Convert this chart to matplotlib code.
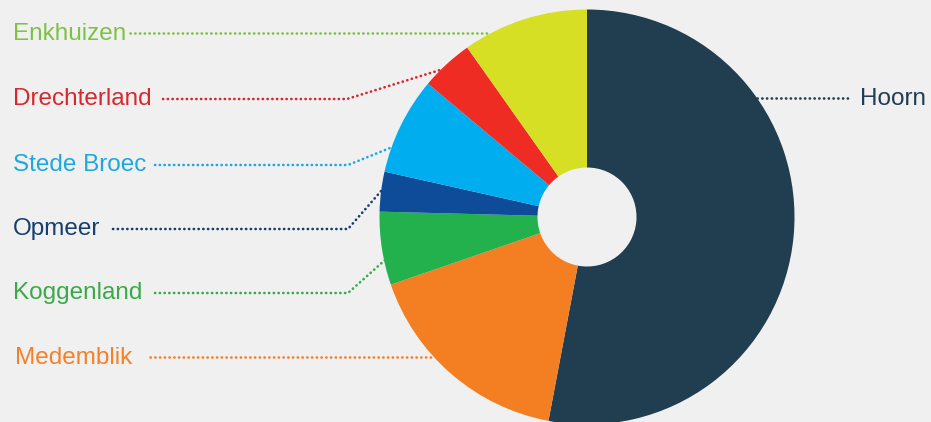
import matplotlib.pyplot as plt

plt.rcParams['font.family'] = ['Liberation Sans', 'DejaVu Sans']

# gemeenten, clockwise from 12 o'clock
gemeenten = ['Hoorn', 'Medemblik', 'Koggenland', 'Opmeer', 'Stede Broec', 'Drechterland', 'Enkhuizen']
aandeel = [53.0, 16.75, 5.7, 3.1, 7.6, 4.1, 9.8]
slice_colors = ['#213d50', '#f37f22', '#23b14d', '#0e4c9a', '#00aeef', '#ee2c24', '#d6df23']
label_colors = ['#213d50', '#f58025', '#3aaa48', '#173f6e', '#1ea8e0', '#d7282f', '#7dc242']

W, H = 931, 422
BG = '#f0f0f0'

fig = plt.figure(figsize=(W / 100, H / 100), dpi=100)
fig.patch.set_facecolor(BG)
ax = fig.add_axes([0, 0, 1, 1])
ax.set_facecolor(BG)

# pie in pixel-like coords (y up)
cx, cy, r = 587, H - 217, 207.5
ax.pie(aandeel, colors=slice_colors, startangle=90, counterclock=False,
       center=(cx, cy), radius=r,
       wedgeprops=dict(width=r - 49.5, linewidth=0))

# leader lines: text anchor and dotted path -- in image pixels (y down)
leaders = {
    'Enkhuizen':    dict(text=(13, 34),   line=[(130, 33), (487, 33)]),
    'Drechterland': dict(text=(13, 99),   line=[(163, 99), (347, 99), (440, 70)]),
    'Stede Broec':  dict(text=(13, 165),  line=[(155, 165), (348, 165), (390, 148)]),
    'Opmeer':       dict(text=(13, 229),  line=[(113, 229), (348, 229), (382, 190)]),
    'Koggenland':   dict(text=(13, 293),  line=[(155, 293), (348, 293), (385, 260)]),
    'Medemblik':    dict(text=(15, 358),  line=[(150, 357), (432, 357)]),
    'Hoorn':        dict(text=(860, 99),  line=[(757, 98), (850, 98)]),
}

for name, col in zip(gemeenten, label_colors):
    info = leaders[name]
    xs = [p[0] for p in info['line']]
    ys = [H - p[1] for p in info['line']]
    ax.plot(xs, ys, color=col, lw=1.9, linestyle=(0, (0.1, 1.7)),
            dash_capstyle='round', solid_capstyle='round')
    tx, ty = info['text']
    ax.text(tx, H - ty, name, color=col, fontsize=17.5, ha='left', va='center')

ax.set_xlim(0, W)
ax.set_ylim(0, H)
ax.set_aspect('equal')
ax.axis('off')

fig.savefig('out.png', dpi=100, facecolor=BG)
